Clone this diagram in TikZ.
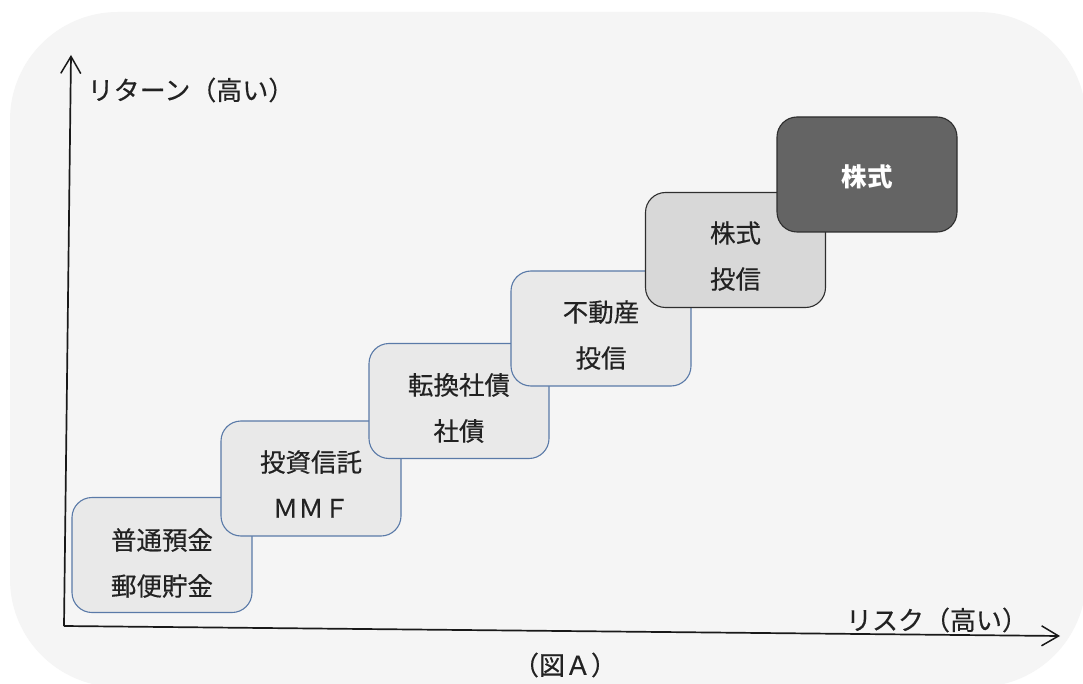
\documentclass[tikz,border=0pt]{standalone}
\usepackage{fontspec}
\setmainfont{Noto Sans CJK JP}
\newfontfamily\jpmed[FakeBold=0.35]{Noto Sans CJK JP}
\usetikzlibrary{arrows.meta}
\definecolor{bgc}{HTML}{F5F5F5}
\definecolor{boxfill}{HTML}{E9E9E9}
\definecolor{boxline}{HTML}{5A7AA8}
\definecolor{midfill}{HTML}{D8D8D8}
\definecolor{darkfill}{HTML}{646464}
\definecolor{darkline}{HTML}{2E2E2E}
\definecolor{txtc}{HTML}{222222}
\tikzset{
  stepbox/.style={draw=boxline, fill=boxfill, line width=1.1pt, rounded corners=20pt,
    minimum width=180pt, minimum height=115pt, inner sep=0pt},
  midbox/.style={stepbox, draw=darkline, fill=midfill},
  topbox/.style={stepbox, draw=darkline, fill=darkfill},
  boxtxt/.style={font=\jpmed\fontsize{25.5pt}{46pt}\selectfont, text=txtc, align=center, inner sep=0pt},
  lbl/.style={font=\jpmed\fontsize{26pt}{30pt}\selectfont, text=txtc, inner sep=0pt},
  axis/.style={draw=black!90, line width=1.7pt, -{Straight Barb[length=17pt,width=20pt,line width=1.5pt]}}
}
\begin{document}
\begin{tikzpicture}[x=1pt,y=-1pt]
\useasboundingbox (0,0) rectangle (1083,684);
\fill[white] (0,0) rectangle (1083,684);
\fill[bgc, rounded corners=108pt] (10,12) rectangle (1086,687);

\coordinate (O) at (64,626);
\coordinate (Ytop) at (71,55);
\coordinate (Xend) at (1060,636);
\draw[axis] (O) -- (Ytop);
\draw[axis] (O) -- (Xend);

\node[lbl] (ylab) at (191,90) {リターン（高い）};
\node[lbl] (xlab) at (937,620) {リスク（高い）};
\node[lbl] (cap) at (565,665) {（図Ａ）};

\node[stepbox] (b1) at (162,555) {};
\node[boxtxt] (t1) at (162,563) {普通預金\\郵便貯金};
\node[stepbox] (b2) at (311,478.5) {};
\node[boxtxt] (t2) at (311,484) {投資信託\\ＭＭＦ};
\node[stepbox] (b3) at (459,401) {};
\node[boxtxt] (t3) at (459,408) {転換社債\\社債};
\node[stepbox] (b4) at (601,328.5) {};
\node[boxtxt] (t4) at (601,335) {不動産\\投信};
\node[midbox] (b5) at (735.5,250) {};
\node[boxtxt] (t5) at (735.5,256) {株式\\投信};
\node[topbox] (b6) at (867,174.5) {};
\node[boxtxt, text=white, font=\fontsize{25.5pt}{46pt}\selectfont\bfseries] (t6) at (867,177) {株式};
\end{tikzpicture}
\end{document}
